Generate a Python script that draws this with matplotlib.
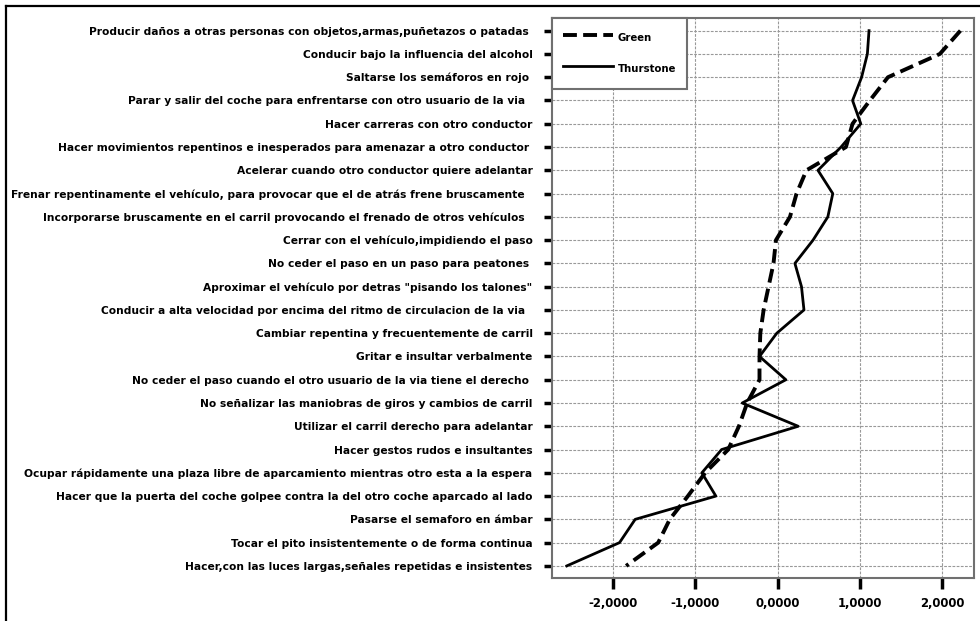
import matplotlib
matplotlib.use("Agg")
import matplotlib.pyplot as plt
from matplotlib.lines import Line2D
from matplotlib.ticker import FuncFormatter
import numpy as np

plt.rcParams['font.family'] = ['DejaVu Sans']
plt.rcParams['lines.scale_dashes'] = False

categories = [
    "Producir daños a otras personas con objetos,armas,puñetazos o patadas ",
    "Conducir bajo la influencia del alcohol",
    "Saltarse los semáforos en rojo ",
    "Parar y salir del coche para enfrentarse con otro usuario de la via  ",
    "Hacer carreras con otro conductor",
    "Hacer movimientos repentinos e inesperados para amenazar a otro conductor ",
    "Acelerar cuando otro conductor quiere adelantar",
    "Frenar repentinamente el vehículo, para provocar que el de atrás frene bruscamente  ",
    "Incorporarse bruscamente en el carril provocando el frenado de otros vehículos  ",
    "Cerrar con el vehículo,impidiendo el paso",
    "No ceder el paso en un paso para peatones ",
    "Aproximar el vehículo por detras \"pisando los talones\"",
    "Conducir a alta velocidad por encima del ritmo de circulacion de la via  ",
    "Cambiar repentina y frecuentemente de carril",
    "Gritar e insultar verbalmente",
    "No ceder el paso cuando el otro usuario de la via tiene el derecho ",
    "No señalizar las maniobras de giros y cambios de carril",
    "Utilizar el carril derecho para adelantar",
    "Hacer gestos rudos e insultantes",
    "Ocupar rápidamente una plaza libre de aparcamiento mientras otro esta a la espera",
    "Hacer que la puerta del coche golpee contra la del otro coche aparcado al lado",
    "Pasarse el semaforo en ámbar",
    "Tocar el pito insistentemente o de forma continua",
    "Hacer,con las luces largas,señales repetidas e insistentes",
]

green = [2.22, 1.97, 1.34, 1.12, 0.91, 0.83, 0.35, 0.23, 0.15, -0.02, -0.05, -0.11,
         -0.17, -0.21, -0.22, -0.22, -0.37, -0.47, -0.60, -0.88, -1.09, -1.31, -1.45, -1.84]
thurstone = [1.11, 1.09, 1.02, 0.91, 1.01, 0.77, 0.49, 0.67, 0.61, 0.43, 0.21, 0.29,
             0.32, -0.01, -0.22, 0.10, -0.43, 0.25, -0.68, -0.92, -0.75, -1.73, -1.92, -2.56]
xticks = [-2, -1, 0, 1, 2]
series_names = ["Green", "Thurstone"]

W, H = 980, 621
fig = plt.figure(figsize=(W / 100, H / 100), dpi=100)
ax = fig.add_axes([552 / W, 1 - 578 / H, (974 - 552) / W, (578 - 18) / H])

y = np.arange(len(categories))
ax.plot(green, y, color='black', lw=2.8, linestyle=(0, (10, 4.5)),
        label=series_names[0], zorder=3)
ax.plot(thurstone, y, color='black', lw=2.0, label=series_names[1], zorder=3)

ax.set_xlim(-2.74, 2.385)
ax.set_ylim(len(categories) - 0.48, -0.545)
ax.set_yticks(y)
ax.set_yticklabels(categories, fontsize=7.7, fontweight='bold')
ax.set_xticks(xticks)
ax.xaxis.set_major_formatter(FuncFormatter(lambda v, p: f"{v:.4f}".replace('.', ',')))
for lab in ax.get_xticklabels():
    lab.set_fontweight('bold')
    lab.set_fontsize(8.4)

ax.tick_params(axis='y', length=6, width=2.5, pad=8, color='black', direction='out')
ax.tick_params(axis='x', length=8, width=2.5, pad=6, color='black', direction='out')

ax.grid(True, color='#999999', lw=0.8, linestyle=(0, (2, 1)))
ax.set_axisbelow(True)
for s in ax.spines.values():
    s.set_color('#707070')
    s.set_linewidth(1.5)

leg = ax.legend(loc='upper left', bbox_to_anchor=(0, 1), borderaxespad=0,
                handlelength=4.9, handleheight=2.4, handletextpad=0.5, labelspacing=1.2,
                borderpad=1.1, fancybox=False, framealpha=1, edgecolor='#707070',
                prop={'weight': 'bold', 'size': 7.3})
leg.get_frame().set_linewidth(1.5)

# figure frame (top and left)
fig.add_artist(Line2D([5.5 / W, 1], [1 - 6 / H, 1 - 6 / H], color='black', lw=1.6,
                      transform=fig.transFigure))
fig.add_artist(Line2D([5.5 / W, 5.5 / W], [0, 1 - 6 / H], color='black', lw=1.6,
                      transform=fig.transFigure))

fig.savefig("out.png", dpi=100)
